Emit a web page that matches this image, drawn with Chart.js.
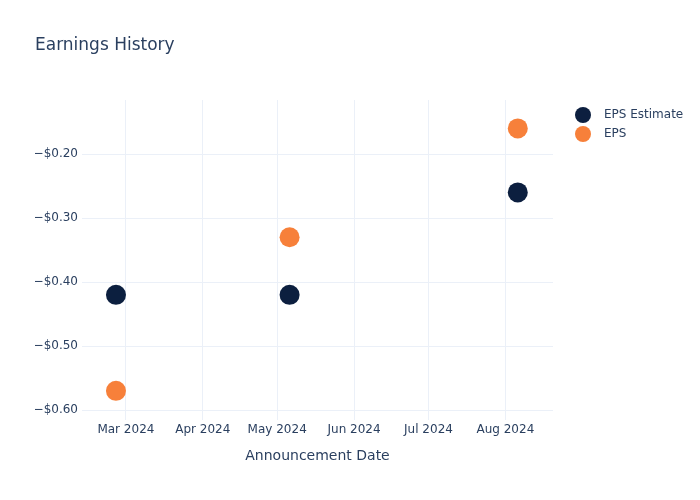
<!DOCTYPE html>
<html>
<head>
<meta charset="utf-8">
<script src="https://cdn.jsdelivr.net/npm/chart.js@4.4.1/dist/chart.umd.min.js"></script>
<style>
  html, body { margin: 0; padding: 0; background: #fff; }
  #wrap { width: 700px; height: 500px; }
</style>
</head>
<body>
<div id="wrap"><canvas id="chart" width="700" height="500"></canvas></div>
<script>
// announcement dates and values
const dates = ["2024-02-26", "2024-05-06", "2024-08-06"];
const epsEstimate = [-0.42, -0.42, -0.26];
const epsActual = [-0.57, -0.33, -0.16];

// axis ticks
const xTickDates = ["2024-03-01", "2024-04-01", "2024-05-01", "2024-06-01", "2024-07-01", "2024-08-01"];
const xTickLabels = ["Mar 2024", "Apr 2024", "May 2024", "Jun 2024", "Jul 2024", "Aug 2024"];
const yTicks = [-0.6, -0.5, -0.4, -0.3, -0.2];

const toTime = (d) => Date.parse(d + "T00:00:00Z");
const DAY = 86400000;

const textColor = "#2a3f5f";
const gridColor = "#ebf0f8";
const font = "DejaVu Sans";

function points(values) {
  return dates.map((d, i) => ({ x: toTime(d), y: values[i] }));
}

const series = [
  { label: "EPS Estimate", values: epsEstimate, color: "#0c1f3f" },
  { label: "EPS", values: epsActual, color: "#f7803a" },
];

// legend drawn by hand to sit where plotly puts it
const sideLegend = {
  id: "sideLegend",
  afterDraw(chart) {
    const ctx = chart.ctx;
    ctx.save();
    ctx.font = "12px '" + font + "'";
    ctx.textBaseline = "middle";
    ctx.textAlign = "left";
    chart.data.datasets.forEach((ds, i) => {
      const y = 115 + i * 19;
      ctx.beginPath();
      ctx.arc(583, y, 8, 0, Math.PI * 2);
      ctx.fillStyle = ds.backgroundColor;
      ctx.fill();
      ctx.fillStyle = textColor;
      ctx.fillText(ds.label, 604, y);
    });
    ctx.restore();
  },
};

new Chart(document.getElementById("chart"), {
  type: "scatter",
  data: {
    datasets: series.map((s) => ({
      label: s.label,
      data: points(s.values),
      backgroundColor: s.color,
      borderColor: s.color,
      pointRadius: 10,
      pointHoverRadius: 10,
      borderWidth: 0,
    })),
  },
  plugins: [sideLegend],
  options: {
    responsive: false,
    animation: false,
    layout: { padding: { left: 35, right: 147, top: 0, bottom: 0 } },
    plugins: {
      legend: { display: false },
      tooltip: { enabled: false },
      title: {
        display: true,
        text: "Earnings History",
        align: "start",
        color: textColor,
        font: { family: font, size: 17, weight: "normal", lineHeight: 1.2 },
        padding: { top: 35, bottom: 44.6 },
      },
    },
    scales: {
      x: {
        type: "linear",
        min: toTime("2024-03-01") - 17.7 * DAY,
        max: toTime("2024-08-01") + 19.2 * DAY,
        afterFit(scale) { scale.height = 80; },
        afterBuildTicks(scale) {
          scale.ticks = xTickDates.map((d) => ({ value: toTime(d) }));
        },
        ticks: {
          color: textColor,
          font: { family: font, size: 12 },
          padding: 3,
          maxRotation: 0,
          autoSkip: false,
          callback: (v) => xTickLabels[xTickDates.map(toTime).indexOf(v)],
        },
        grid: { color: gridColor, drawTicks: false },
        border: { display: false },
        title: {
          display: true,
          text: "Announcement Date",
          color: textColor,
          font: { family: font, size: 14 },
          padding: { top: 0, bottom: 35.6 },
        },
      },
      y: {
        min: -0.6156,
        max: -0.1156,
        afterFit(scale) { scale.width = 47; },
        afterBuildTicks(scale) {
          scale.ticks = yTicks.map((v) => ({ value: v }));
        },
        ticks: {
          color: textColor,
          font: { family: font, size: 12 },
          padding: 4,
          callback: (v) => "\u2212$" + Math.abs(v).toFixed(2),
        },
        grid: { color: gridColor, drawTicks: false },
        border: { display: false },
      },
    },
  },
});
</script>
</body>
</html>
